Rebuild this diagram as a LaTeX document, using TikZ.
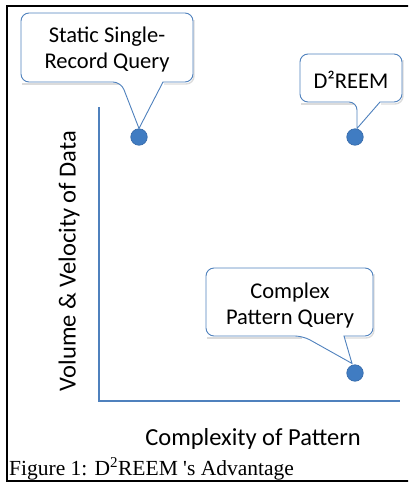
\documentclass[tikz,border=0pt]{standalone}
\usepackage{fontspec}
\setmainfont{Liberation Serif}
\newfontfamily\calfont{Carlito}
\definecolor{axisblue}{RGB}{79,129,189}
\definecolor{dotblue}{RGB}{64,124,194}
\definecolor{dotedge}{RGB}{52,104,168}
\begin{document}
\begin{tikzpicture}[x=1pt,y=-1pt,
  calloutbox/.style={draw=axisblue,line width=0.9pt,fill=white,rounded corners=8pt},
  shadowbox/.style={draw=black!14,line width=1.4pt,rounded corners=8pt},
  dotmark/.style={circle,fill=dotblue,draw=dotedge,line width=0.6pt,minimum size=16.5pt,inner sep=0pt},
  axisline/.style={draw=axisblue,line width=2.6pt},
  calltext/.style={font=\calfont\fontsize{22.5}{26}\selectfont,align=center,inner sep=0pt},
  axistext/.style={font=\calfont\fontsize{24.5}{28}\selectfont,inner sep=0pt},
  captext/.style={font=\fontsize{21.5}{24}\selectfont,inner sep=0pt,anchor=base west}]
\useasboundingbox (0,0) rectangle (408,483);
\begin{scope}
\clip (0,0) rectangle (408,483);
\draw[line width=2pt] (7,6) rectangle (420,481);
\end{scope}
% axes
\coordinate (ytop) at (99,107);
\coordinate (origin) at (99,401);
\coordinate (xend) at (400,401);
\draw[axisline] (ytop) -- (origin) -- (xend);
\node[axistext,rotate=90] (ylab) at (69,261) {Volume \& Velocity of Data};
\node[axistext,anchor=base] (xlab) at (253,445) {Complexity of Pattern};
% dots
\node[dotmark] (d1) at (139,137) {};
\node[dotmark] (d2) at (355,137) {};
\node[dotmark] (d3) at (355,373) {};
% callout 1
\draw[shadowbox] (22,84) -- (120,84);
\draw[shadowbox] (164,84) -- (194,84) -- (194,20);
\draw[calloutbox] (163,82) -- (193,82) -- (193,13) -- (21,13) -- (21,82) -- (121,82) [sharp corners] -- (d1.north) -- cycle;
\node[calltext] (c1) at (107,49) {Static Single-\\Record Query};
% callout 2
\draw[shadowbox] (301,104) -- (356,104);
\draw[shadowbox] (381,104) -- (403,104) -- (403,60);
\draw[calloutbox] (380,102) -- (402,102) -- (402,54) -- (300,54) -- (300,102) -- (357,102) [sharp corners] -- ([xshift=2pt]d2.north) -- cycle;
\node[calltext] (c2) at (351,80) {D²REEM};
% callout 3
\draw[shadowbox] (207,338) -- (302,338);
\draw[shadowbox] (345,338) -- (374,338) -- (374,274);
\draw[calloutbox] (344,336) -- (373,336) -- (373,268) -- (206,268) -- (206,336) -- (303,336) [sharp corners] -- ([xshift=-3pt,yshift=1pt]d3.north) -- cycle;
\node[calltext] (c3) at (290,305) {Complex\\Pattern Query};
% caption
\node[captext] (cap) at (9,475) {Figure 1: D\textsuperscript{2}REEM \textquotesingle s Advantage};
\end{tikzpicture}
\end{document}
